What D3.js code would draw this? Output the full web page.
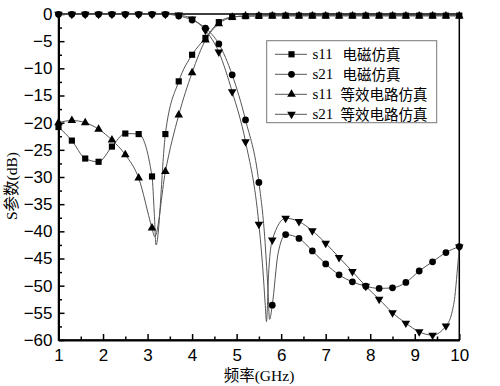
<!DOCTYPE html>
<html>
<head>
<meta charset="utf-8">
<script src="https://cdn.jsdelivr.net/npm/d3@7"></script>
<style>
  html, body { margin: 0; padding: 0; background: #fff; }
  #plot { width: 500px; height: 386px; }
</style>
</head>
<body>
<div id="plot"></div>
<script>
// S parameters: EM simulation vs equivalent circuit, markers every 0.3 GHz
const freqs = [1.0, 1.3, 1.6, 1.9, 2.2, 2.5, 2.8, 3.1, 3.4, 3.7, 4.0, 4.3, 4.6, 4.9, 5.2, 5.5,
  5.8, 6.1, 6.4, 6.7, 7.0, 7.3, 7.6, 7.9, 8.2, 8.5, 8.8, 9.1, 9.4, 9.7, 10.0];

const s11EM = [-20.8, -23.3, -26.6, -27.2, -24.4, -22.0, -22.1, -29.9, -22.1, -12.4, -7.5, -4.4, -1.5, -0.55, -0.4, -0.35,
  -0.3, -0.3, -0.3, -0.3, -0.3, -0.3, -0.3, -0.3, -0.3, -0.3, -0.3, -0.3, -0.3, -0.3, -0.3];
const s21EM = [-0.05, -0.05, -0.05, -0.05, -0.05, -0.05, -0.05, -0.05, -0.05, -0.35, -1.1, -2.6, -5.5, -11.2, -19.5, -31.0,
  -53.6, -40.6, -41.3, -43.6, -46.0, -48.0, -49.3, -50.1, -50.5, -50.4, -49.4, -47.3, -45.6, -43.9, -42.8];
const s11Eq = [-20.0, -19.6, -20.0, -21.2, -23.2, -25.9, -30.2, -39.4, -29.0, -18.6, -10.8, -4.8, -1.8, -0.6, -0.35, -0.35,
  -0.35, -0.35, -0.35, -0.35, -0.35, -0.35, -0.35, -0.35, -0.35, -0.35, -0.35, -0.35, -0.35, -0.35, -0.35];
const s21Eq = [-0.05, -0.05, -0.05, -0.05, -0.05, -0.05, -0.05, -0.05, -0.05, -0.2, -0.9, -3.0, -7.0, -14.3, -23.5, -38.7,
  -41.6, -37.6, -38.2, -39.9, -42.2, -44.8, -47.4, -50.1, -52.5, -55.0, -56.9, -58.5, -59.1, -57.4, -42.9];

// extra curve points (no marker) read off the resonance dips
const s11EMDip = [[3.15, -36.5], [3.19, -42.5]];
const s21EMDip = [[5.63, -41.0], [5.70, -50.2], [5.74, -56.2], [5.93, -44.1]];
const s11EqDip = [[3.16, -41.0]];
const s21EqDip = [[5.59, -47.1], [5.64, -53.2], [5.67, -56.6], [5.72, -47.5], [9.83, -55.1], [9.9, -52.0], [9.95, -47.7]];

const seriesNames = ['s11', 's21', 's11', 's21'];
const seriesLabels = ['电磁仿真', '电磁仿真', '等效电路仿真', '等效电路仿真'];

const xTicks = [1, 2, 3, 4, 5, 6, 7, 8, 9, 10];
const yTicks = [0, -5, -10, -15, -20, -25, -30, -35, -40, -45, -50, -55, -60];

const W = 500, H = 386;
const svg = d3.select('#plot').append('svg').attr('width', W).attr('height', H);

const x = d3.scaleLinear().domain([1, 10]).range([58.5, 459.3]);
const y = d3.scaleLinear().domain([-60, 0]).range([340, 14]);

const tickFont = 'Liberation Sans, Arial, sans-serif';
const titleFont = 'Liberation Serif, Noto Sans CJK SC, serif';

svg.append('defs').append('clipPath').attr('id', 'clip')
  .append('rect').attr('x', x(1)).attr('y', y(0) - 6).attr('width', x(10) - x(1)).attr('height', y(-60) - y(0) + 6);

// frame
svg.append('rect').attr('x', x(1)).attr('y', y(0)).attr('width', x(10) - x(1)).attr('height', y(-60) - y(0))
  .attr('fill', 'none').attr('stroke', '#000').attr('stroke-width', 1.5);

// minor ticks
const xMinor = d3.range(1.5, 10, 1);
const yMinor = d3.range(-57.5, 0, 5);
svg.append('g').attr('transform', `translate(0,${y(-60)})`)
  .call(d3.axisBottom(x).tickValues(xMinor).tickSize(-3.5).tickFormat(''))
  .call((g) => g.select('.domain').remove())
  .selectAll('line').attr('stroke-width', 1.5);
svg.append('g').attr('transform', `translate(${x(1)},0)`)
  .call(d3.axisLeft(y).tickValues(yMinor).tickSize(-3.5).tickFormat(''))
  .call((g) => g.select('.domain').remove())
  .selectAll('line').attr('stroke-width', 1.5);

// major axes
const xAxis = svg.append('g').attr('transform', `translate(0,${y(-60)})`)
  .call(d3.axisBottom(x).tickValues(xTicks).tickSize(-6).tickSizeOuter(0).tickPadding(9).tickFormat(d3.format('d')));
xAxis.select('.domain').attr('stroke-width', 2);
xAxis.selectAll('line').attr('stroke-width', 1.5);
xAxis.selectAll('text').style('font-family', tickFont).style('font-size', '17px').attr('fill', '#000');

const yAxis = svg.append('g').attr('transform', `translate(${x(1)},0)`)
  .call(d3.axisLeft(y).tickValues(yTicks).tickSize(-6).tickSizeOuter(0).tickPadding(6).tickFormat(d3.format('d')));
yAxis.select('.domain').attr('stroke-width', 2);
yAxis.selectAll('line').attr('stroke-width', 1.5);
yAxis.selectAll('text').style('font-family', tickFont).style('font-size', '17px').attr('fill', '#000');

// axis titles
svg.append('text').attr('transform', 'translate(17,186) rotate(-90)').attr('text-anchor', 'middle')
  .style('font-family', titleFont).style('font-size', '15.5px').text('S参数(dB)');
svg.append('text').attr('x', 259).attr('y', 381).attr('text-anchor', 'middle')
  .style('font-family', titleFont).style('font-size', '15.5px').text('频率(GHz)');

// series
const symSquare = d3.symbol().type(d3.symbolSquare).size(38);
const symCircle = d3.symbol().type(d3.symbolCircle).size(36);
const symTri = d3.symbol().type(d3.symbolTriangle).size(32);

const series = [
  { vals: s11EM, dip: s11EMDip, sym: symSquare, rot: 0, z: 2 },
  { vals: s21EM, dip: s21EMDip, sym: symCircle, rot: 0, z: 0 },
  { vals: s11Eq, dip: s11EqDip, sym: symTri, rot: 0, z: 1 },
  { vals: s21Eq, dip: s21EqDip, sym: symTri, rot: 180, z: 3 },
];

const line = d3.line().x((d) => x(d[0])).y((d) => y(d[1])).curve(d3.curveMonotoneX);
const plotG = svg.append('g').attr('clip-path', 'url(#clip)');

series.forEach((s) => {
  const pts = freqs.map((f, i) => [f, s.vals[i]]).concat(s.dip).sort((a, b) => a[0] - b[0]);
  plotG.append('path').datum(pts).attr('d', line).attr('fill', 'none').attr('stroke', '#555').attr('stroke-width', 1);
});
series.slice().sort((a, b) => a.z - b.z).forEach((s) => {
  svg.append('g').selectAll('path').data(freqs.map((f, i) => [f, s.vals[i]])).enter().append('path')
    .attr('d', s.sym())
    .attr('transform', (d) => `translate(${x(d[0])},${y(d[1])}) rotate(${s.rot})`)
    .attr('fill', '#000');
});

// legend
const lg = svg.append('g');
lg.append('rect').attr('x', 266.7).attr('y', 40.7).attr('width', 170).attr('height', 82)
  .attr('fill', '#fff').attr('stroke', '#777').attr('stroke-width', 1);
series.forEach((s, i) => {
  const ly = 54.3 + i * 20;
  lg.append('line').attr('x1', 275).attr('x2', 307).attr('y1', ly).attr('y2', ly).attr('stroke', '#555').attr('stroke-width', 1);
  lg.append('path').attr('d', s.sym()).attr('transform', `translate(291.5,${ly}) rotate(${s.rot})`).attr('fill', '#000');
  lg.append('text').attr('x', 312.5).attr('y', ly + 5).style('font-family', 'Liberation Serif, serif').style('font-size', '15px').text(seriesNames[i]);
  lg.append('text').attr('x', i < 2 ? 342.5 : 340.5).attr('y', ly + 5.5).style('font-family', 'Noto Sans CJK SC, sans-serif').style('font-size', '14.5px').text(seriesLabels[i]);
});
</script>
</body>
</html>
